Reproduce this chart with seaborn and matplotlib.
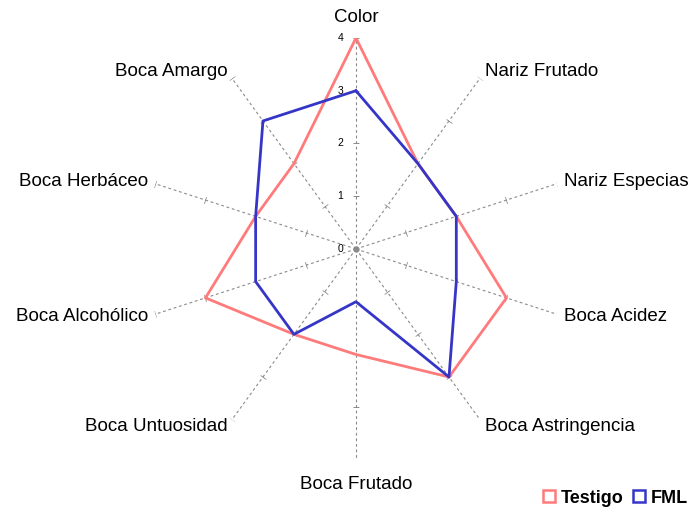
import numpy as np
import matplotlib.pyplot as plt
from matplotlib.lines import Line2D
import seaborn as sns

# radar data, clockwise from the top
categories = ['Color', 'Nariz Frutado', 'Nariz Especias', 'Boca Acidez',
              'Boca Astringencia', 'Boca Frutado', 'Boca Untuosidad',
              'Boca Alcohólico', 'Boca Herbáceo', 'Boca Amargo']
testigo = [4, 2, 2, 3, 3, 2, 2, 3, 2, 2]
fml = [3, 2, 2, 2, 3, 1, 2, 2, 2, 3]
scale_ticks = [0, 1, 2, 3, 4]
series_names = ['Testigo', 'FML']
series_colors = ['#ff7b7b', '#3535c8']

sns.set_style('white')
plt.rcParams['font.family'] = ['Liberation Sans', 'DejaVu Sans']
plt.rcParams['text.color'] = 'black'

fig = plt.figure(figsize=(6.91, 5.12), dpi=100)
ax = fig.add_axes([0.2098, 0.1016, 0.6107, 0.8242], projection='polar')
ax.set_theta_zero_location('N')
ax.set_theta_direction(-1)
ax.set_ylim(0, max(scale_ticks))
ax.grid(False)
ax.set_xticks([])
ax.set_yticks([])
ax.spines['polar'].set_visible(False)
ax.patch.set_alpha(0)

n = len(categories)
theta = np.linspace(0, 2 * np.pi, n, endpoint=False)

# dashed spokes with little cross ticks at every unit
for t in theta:
    ax.plot([t, t], [0, max(scale_ticks)], color='#8a8a8a', lw=0.8,
            ls=(0, (2.5, 2.5)), zorder=1)
    rot = 90 - np.degrees(t)
    ax.plot([t] * (len(scale_ticks) - 1), scale_ticks[1:], ls='none',
            marker=(2, 0, rot), ms=5, mew=0.6, color='#8a8a8a', zorder=1)
ax.plot([0], [0], 'o', color='#8a8a8a', ms=3.5, zorder=2)

for v in scale_ticks:
    ax.annotate(str(v), xy=(0, v), xytext=(-9, 0), textcoords='offset points',
                ha='right', va='center', fontsize=7.5)

# category labels around the outside
for t, lab in zip(theta, categories):
    s = np.sin(t)
    if abs(s) < 0.01:
        r = 4.38 if np.cos(t) > 0 else 4.46
        ax.text(t, r, lab, ha='center', va='center', fontsize=13.5, clip_on=False)
    else:
        ax.text(t, 4.15, lab, ha='left' if s > 0 else 'right', va='center',
                fontsize=13.5, clip_on=False)

theta_closed = np.append(theta, 2 * np.pi)
for vals, name, col in zip([testigo, fml], series_names, series_colors):
    sns.lineplot(x=theta_closed, y=vals + vals[:1], sort=False, estimator=None,
                 color=col, lw=2, ax=ax, legend=False, zorder=3)
ax.set_xlabel('')
ax.set_ylabel('')

handles = [Line2D([], [], ls='none', marker='s', ms=9, mfc='none', mec=c, mew=1.8)
           for c in series_colors]
fig.legend(handles, series_names, loc='lower right', bbox_to_anchor=(1.014, -0.014),
           ncol=2, frameon=False, prop={'weight': 'bold', 'size': 13},
           handlelength=0.7, handletextpad=0.3, columnspacing=0.5,
           borderaxespad=0.3)

fig.savefig('out.png', dpi=100)
